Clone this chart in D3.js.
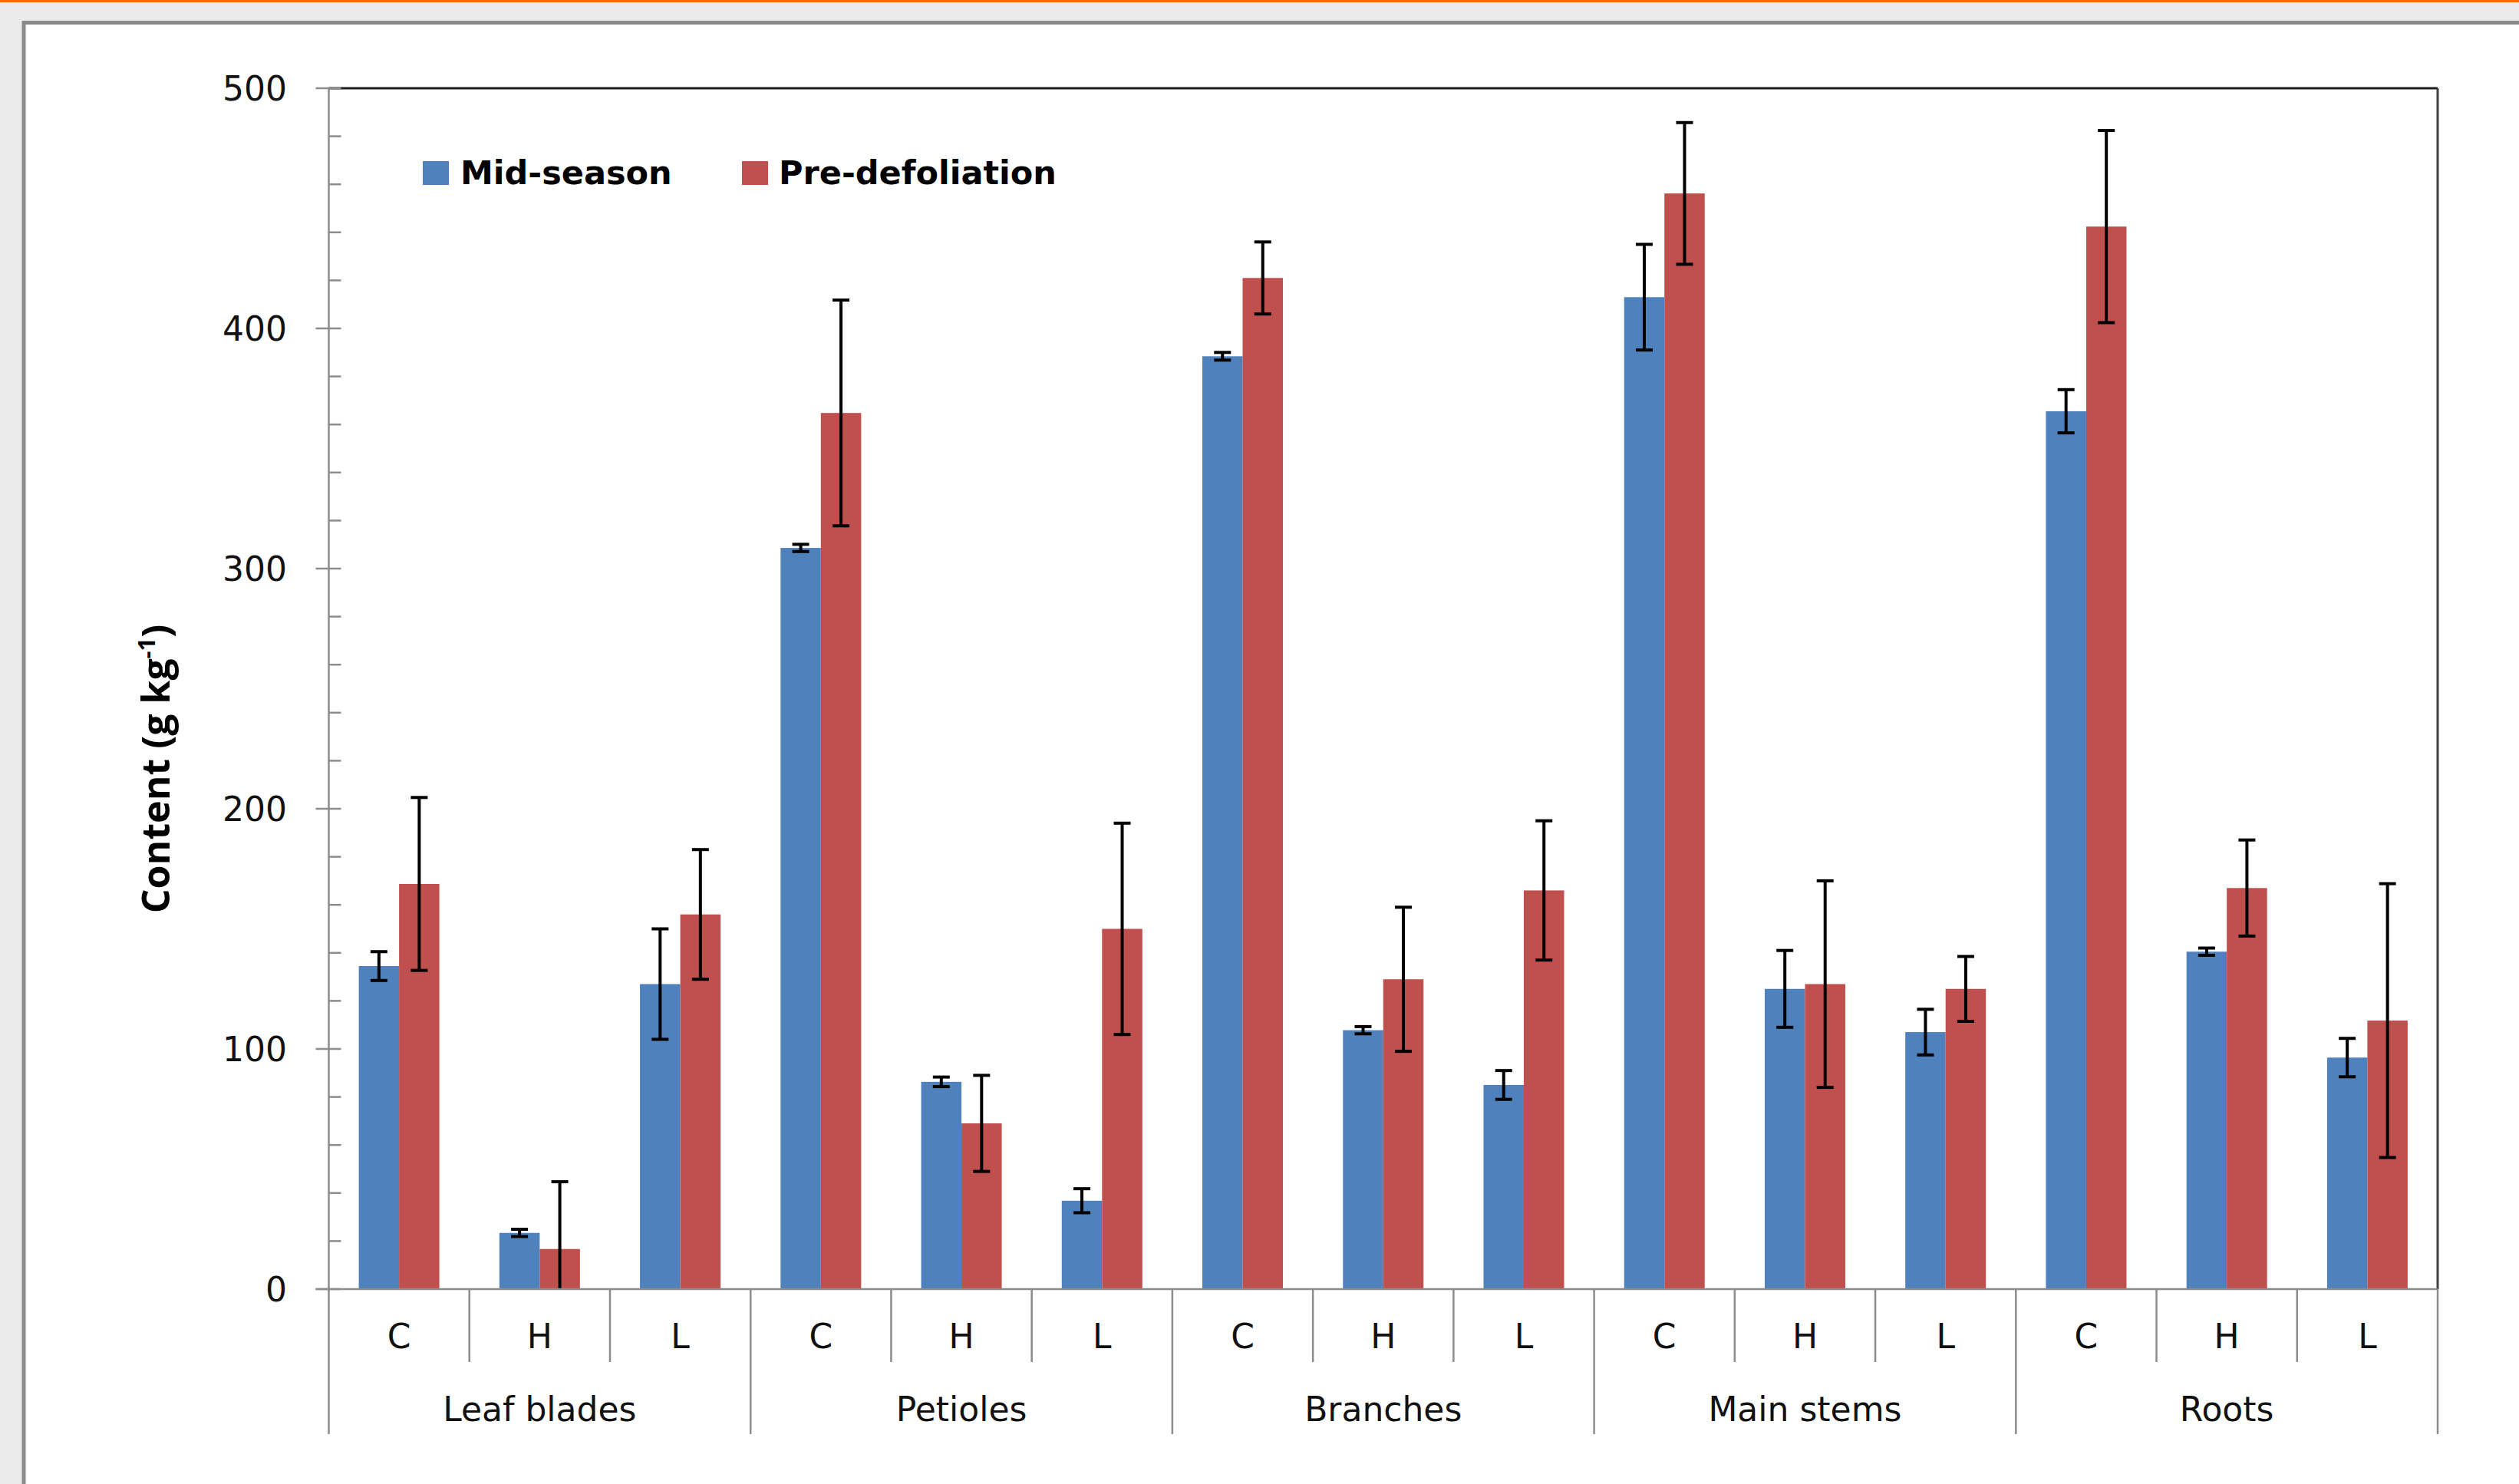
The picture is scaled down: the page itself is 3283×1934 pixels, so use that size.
<!DOCTYPE html>
<html>
<head>
<meta charset="utf-8">
<script src="https://cdn.jsdelivr.net/npm/d3@7"></script>
<style>
  html, body { margin: 0; padding: 0; background: #ebebeb; overflow: hidden; }
  svg { display: block; }
</style>
</head>
<body>
<svg id="chart" width="3283" height="1934"></svg>
<script>
// ---- data ----
const groups = ["Leaf blades", "Petioles", "Branches", "Main stems", "Roots"];
const treatments = ["C", "H", "L"];
const seriesNames = ["Mid-season", "Pre-defoliation"];
const midSeason    = [134.5, 23.4, 127, 308.6, 86.3, 36.8, 388.4, 107.8, 85, 413, 125, 107, 365.5, 140.5, 96.4];
const midSeasonErr = [6, 1.5, 23, 1.5, 2, 5, 1.6, 1.5, 6, 22, 16, 9.5, 9, 1.5, 8];
const preDefol     = [168.7, 16.7, 156, 364.8, 69, 150, 421, 129, 166, 456.2, 127, 125, 442.4, 167, 111.8];
const preDefolErr  = [36, 28, 27, 47, 20, 44, 15, 30, 29, 29.5, 43, 13.5, 40, 20, 57];
const yMajorTicks = [0, 100, 200, 300, 400, 500];
const yMinorTicks = d3.range(0, 501, 20);

// ---- layout ----
const svg = d3.select("#chart");
const W = 3283, H = 1934;
const L = 428.5, R = 3177, T = 115, B = 1680;
const colors = ["#4F81BD", "#C0504D"];
const FONT = "'DejaVu Sans', Verdana, sans-serif";

// background & panel
svg.append("rect").attr("x", 0).attr("y", 0).attr("width", W).attr("height", H).attr("fill", "#ebebeb");
svg.append("rect").attr("x", 0).attr("y", 0).attr("width", W).attr("height", 3).attr("fill", "#ff6a00");
svg.append("rect").attr("x", 31).attr("y", 29.5).attr("width", W + 20).attr("height", H + 20)
  .attr("fill", "#ffffff").attr("stroke", "#8a8a8a").attr("stroke-width", 5);

// scales
const keys = [];
groups.forEach(g => treatments.forEach(t => keys.push(g + "|" + t)));
const x = d3.scaleBand().domain(keys).range([L, R]).paddingInner(0).paddingOuter(0);
const xs = d3.scaleBand().domain(seriesNames).range([0, x.bandwidth()]).paddingInner(0).paddingOuter(0.745);
const y = d3.scaleLinear().domain([0, 500]).range([B, T]);

const rows = keys.map((k, i) => ({
  key: k,
  vals: [
    { s: seriesNames[0], v: midSeason[i], e: midSeasonErr[i], c: colors[0] },
    { s: seriesNames[1], v: preDefol[i], e: preDefolErr[i], c: colors[1] }
  ]
}));

// plot area border (top & right)
svg.append("line").attr("x1", L).attr("x2", R).attr("y1", T).attr("y2", T)
  .attr("stroke", "#1e1e1e").attr("stroke-width", 3);
svg.append("line").attr("x1", R).attr("x2", R).attr("y1", T).attr("y2", B)
  .attr("stroke", "#404040").attr("stroke-width", 3);

// bars
const gBars = svg.append("g");
const cat = gBars.selectAll("g.cat").data(rows).join("g")
  .attr("class", "cat").attr("transform", d => `translate(${x(d.key)},0)`);
cat.selectAll("rect").data(d => d.vals).join("rect")
  .attr("x", d => xs(d.s)).attr("width", xs.bandwidth())
  .attr("y", d => y(d.v)).attr("height", d => y(0) - y(d.v))
  .attr("fill", d => d.c);

// error bars
const capHalf = 11;
const ebW = 4;
const eb = cat.selectAll("g.err").data(d => d.vals).join("g").attr("class", "err")
  .attr("transform", d => `translate(${xs(d.s) + xs.bandwidth() / 2},0)`);
eb.append("line").attr("x1", 0).attr("x2", 0)
  .attr("y1", d => y(d.v + d.e)).attr("y2", d => y(Math.max(0, d.v - d.e)))
  .attr("stroke", "#000").attr("stroke-width", ebW);
eb.append("line").attr("x1", -capHalf).attr("x2", capHalf)
  .attr("y1", d => y(d.v + d.e)).attr("y2", d => y(d.v + d.e))
  .attr("stroke", "#000").attr("stroke-width", ebW);
eb.filter(d => d.v - d.e > 0).append("line").attr("x1", -capHalf).attr("x2", capHalf)
  .attr("y1", d => y(d.v - d.e)).attr("y2", d => y(d.v - d.e))
  .attr("stroke", "#000").attr("stroke-width", ebW);

// y axis
const axisColor = "#8c8c8c";
const gy = svg.append("g");
gy.append("line").attr("x1", L).attr("x2", L).attr("y1", T).attr("y2", B)
  .attr("stroke", axisColor).attr("stroke-width", 2.5);
gy.selectAll("line.minor").data(yMinorTicks).join("line").attr("class", "minor")
  .attr("x1", L).attr("x2", L + 16).attr("y1", d => y(d)).attr("y2", d => y(d))
  .attr("stroke", axisColor).attr("stroke-width", 2.5);
gy.selectAll("line.major").data(yMajorTicks).join("line").attr("class", "major")
  .attr("x1", L - 17).attr("x2", L).attr("y1", d => y(d)).attr("y2", d => y(d))
  .attr("stroke", axisColor).attr("stroke-width", 2.5);
gy.selectAll("text").data(yMajorTicks).join("text")
  .attr("x", 374).attr("y", d => y(d)).attr("dy", "0.36em")
  .attr("text-anchor", "end").attr("font-family", FONT).attr("font-size", 44)
  .attr("fill", "#111").text(d => d);

// x axis baseline
svg.append("line").attr("x1", L - 17).attr("x2", R).attr("y1", B).attr("y2", B)
  .attr("stroke", axisColor).attr("stroke-width", 2.5);

// category separators
const gx = svg.append("g");
const sepX = keys.map(k => x(k)).concat([R]);
gx.selectAll("line.sep").data(sepX).join("line").attr("class", "sep")
  .attr("x1", d => d).attr("x2", d => d).attr("y1", B)
  .attr("y2", (d, i) => (i % 3 === 0) ? 1869 : 1775)
  .attr("stroke", axisColor).attr("stroke-width", 2.5);
gx.selectAll("text.tr").data(keys).join("text").attr("class", "tr")
  .attr("x", d => x(d) + x.bandwidth() / 2).attr("y", 1757)
  .attr("text-anchor", "middle").attr("font-family", FONT).attr("font-size", 44)
  .attr("fill", "#111").text(d => d.split("|")[1]);
gx.selectAll("text.grp").data(groups).join("text").attr("class", "grp")
  .attr("x", g => x(g + "|H") + x.bandwidth() / 2).attr("y", 1852)
  .attr("text-anchor", "middle").attr("font-family", FONT).attr("font-size", 44)
  .attr("fill", "#111").text(g => g);

// y axis title
const title = svg.append("text")
  .attr("transform", "translate(221,1002) rotate(-90)")
  .attr("text-anchor", "middle").attr("font-family", "'Open Sans', sans-serif")
  .attr("font-weight", "bold").attr("font-size", 50).attr("fill", "#000");
title.append("tspan").text("Content (g kg");
title.append("tspan").attr("font-size", 31).attr("dy", -19).text("-1");
title.append("tspan").attr("dy", 19).text(")");

// legend
const legendItems = [
  { name: seriesNames[0], c: colors[0], sx: 551, tx: 600 },
  { name: seriesNames[1], c: colors[1], sx: 967, tx: 1015 }
];
const lg = svg.append("g");
lg.selectAll("rect").data(legendItems).join("rect")
  .attr("x", d => d.sx).attr("y", 210).attr("width", 34).attr("height", 31).attr("fill", d => d.c);
lg.selectAll("text").data(legendItems).join("text")
  .attr("x", d => d.tx).attr("y", 240)
  .attr("font-family", FONT).attr("font-weight", "bold").attr("font-size", 43)
  .attr("fill", "#000").text(d => d.name);
</script>
</body>
</html>
